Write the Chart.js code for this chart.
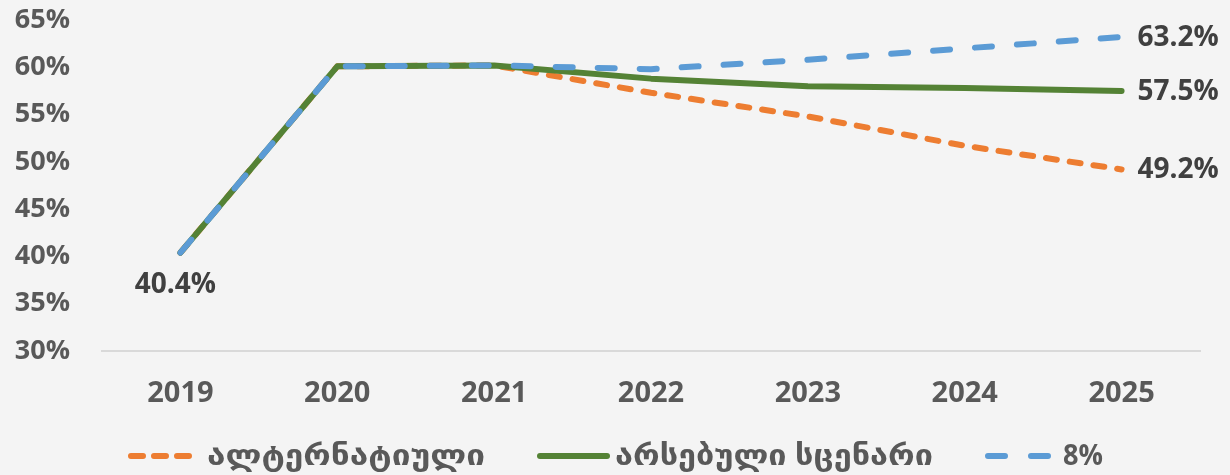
<!DOCTYPE html>
<html>
<head>
<meta charset="utf-8">
<script src="https://cdn.jsdelivr.net/npm/chart.js@4"></script>
<style>
    html, body { margin: 0; padding: 0; background: #f4f4f4; }
    #wrap { width: 1230px; height: 475px; }
</style>
</head>
<body>
<div id="wrap"><canvas id="scenarioChart" width="1230" height="475"></canvas></div>
<script>
const years = ['2019', '2020', '2021', '2022', '2023', '2024', '2025'];
const alternative = [40.4, 60.1, 60.2, 57.3, 54.8, 51.7, 49.2];
const current = [40.4, 60.1, 60.2, 58.8, 58.0, 57.8, 57.5];
const eightPercent = [40.4, 60.1, 60.2, 59.8, 60.8, 62.0, 63.2];
const yTicks = [30, 35, 40, 45, 50, 55, 60, 65];

const FONT = "'Open Sans', 'DejaVu Sans', sans-serif";

const seriesStyles = [
    { label: 'ალტერნატიული', data: alternative, color: '#ED7D31', dash: [11, 13], order: 2 },
    { label: 'არსებული სცენარი', data: current, color: '#548235', dash: [], order: 1 },
    { label: '8%', data: eightPercent, color: '#5B9BD5', dash: [17, 25], order: 0 }
];

// value labels: first point under the line, last points to the right
const valueLabels = {
    id: 'valueLabels',
    afterDatasetsDraw(chart) {
        let ctx = chart.ctx;
        ctx.save();
        ctx.font = `bold 28px ${FONT}`;
        ctx.fillStyle = '#404040';
        ctx.textBaseline = 'middle';
        chart.data.datasets.forEach((ds, i) => {
            let meta = chart.getDatasetMeta(i);
            let last = meta.data[meta.data.length - 1];
            ctx.textAlign = 'left';
            ctx.fillText(ds.data[ds.data.length - 1].toFixed(1) + '%', last.x + 16, last.y + 1);
        });
        let first = chart.getDatasetMeta(1).data[0];
        ctx.textAlign = 'center';
        ctx.fillText(current[0].toFixed(1) + '%', first.x - 5, first.y + 32);
        ctx.restore();
    }
};

// bottom legend with dashed samples, text stretched to its slot
const bottomLegend = {
    id: 'bottomLegend',
    afterDraw(chart) {
        let ctx = chart.ctx;
        let items = [
            { x: 131, w: 58, dash: [12, 11], textX: 207, textW: 278 },
            { x: 540, w: 67, dash: [], textX: 615, textW: 318 },
            { x: 988, w: 60, dash: [17, 26], textX: 1063, textW: 40 }
        ];
        let y = 456;
        ctx.save();
        ctx.font = `bold 28px ${FONT}`;
        ctx.textBaseline = 'middle';
        ctx.textAlign = 'left';
        seriesStyles.forEach((s, i) => {
            let it = items[i];
            ctx.strokeStyle = s.color;
            ctx.lineWidth = 6;
            ctx.lineCap = 'round';
            ctx.setLineDash(it.dash);
            ctx.beginPath();
            ctx.moveTo(it.x, y);
            ctx.lineTo(it.x + it.w, y);
            ctx.stroke();
            ctx.setLineDash([]);

            let w = ctx.measureText(s.label).width;
            ctx.save();
            ctx.translate(it.textX, y + 1);
            ctx.scale(it.textW / w, 1);
            ctx.fillStyle = '#595959';
            ctx.fillText(s.label, 0, 0);
            ctx.restore();
        });
        ctx.restore();
    }
};

const bgFill = {
    id: 'bgFill',
    beforeDraw(chart) {
        let ctx = chart.ctx;
        ctx.save();
        ctx.fillStyle = '#f4f4f4';
        ctx.fillRect(0, 0, chart.width, chart.height);
        ctx.restore();
    }
};

new Chart(document.getElementById('scenarioChart'), {
    type: 'line',
    data: {
        labels: years,
        datasets: seriesStyles.map(s => ({
            label: s.label,
            data: s.data,
            borderColor: s.color,
            backgroundColor: s.color,
            borderWidth: 6,
            borderDash: s.dash,
            borderCapStyle: 'round',
            borderJoinStyle: 'round',
            pointRadius: 0,
            tension: 0,
            order: s.order
        }))
    },
    options: {
        responsive: false,
        animation: false,
        layout: { padding: { left: 2, right: 30, top: 20, bottom: 54 } },
        plugins: {
            legend: { display: false },
            tooltip: { enabled: false }
        },
        scales: {
            x: {
                offset: true,
                grid: { display: false, drawTicks: true, tickLength: 25 },
                border: { display: true, color: '#d9d9d9', width: 2 },
                ticks: {
                    padding: 0,
                    color: '#595959',
                    font: { family: FONT, size: 29, weight: 'bold' }
                },
                afterFit(scale) { scale.height = 70; }
            },
            y: {
                min: yTicks[0],
                max: yTicks[yTicks.length - 1],
                grid: { display: false, drawTicks: true, tickLength: 32 },
                border: { display: false },
                afterBuildTicks(scale) { scale.ticks = yTicks.map(v => ({ value: v })); },
                ticks: {
                    padding: 0,
                    color: '#595959',
                    font: { family: FONT, size: 27, weight: 'bold' },
                    callback: v => v + '%'
                },
                afterFit(scale) { scale.width = 100; }
            }
        }
    },
    plugins: [bgFill, valueLabels, bottomLegend]
});
</script>
</body>
</html>
